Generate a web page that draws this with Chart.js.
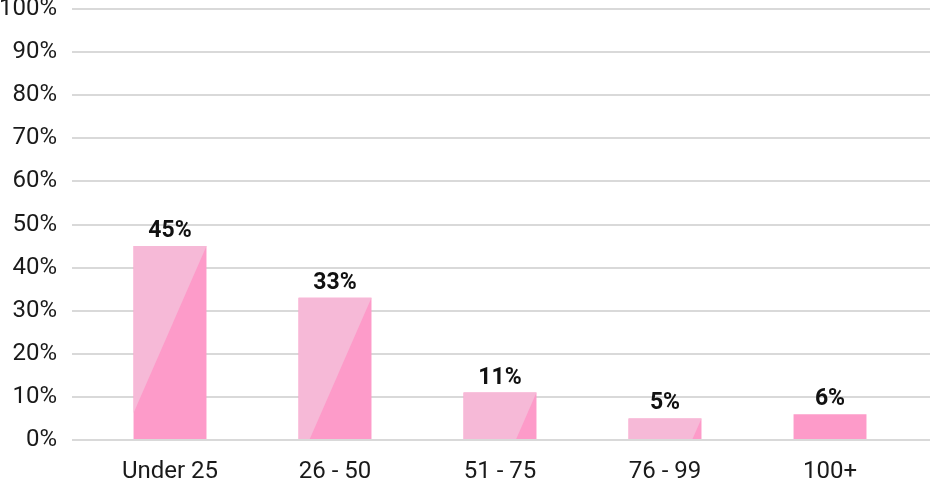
<!DOCTYPE html>
<html>
<head>
<meta charset="utf-8">
<script src="https://cdn.jsdelivr.net/npm/chart.js@4.4.1/dist/chart.umd.min.js"></script>
<style>
html, body { margin: 0; padding: 0; background: #fff; }
</style>
</head>
<body>
<canvas id="chart-age" width="930" height="479"></canvas>
<script>
// data
var ageGroups = ['Under 25', '26 - 50', '51 - 75', '76 - 99', '100+'];
var sharePct = [45, 33, 11, 5, 6];
var yTickValues = [0, 10, 20, 30, 40, 50, 60, 70, 80, 90, 100];

// styling
var darkPink = '#fd9bc9';
var lightPink = '#f6b9d7';
var twoTone = [true, true, true, true, false];
var diagSlope = 0.437; // px left per px down

Chart.defaults.font.family = 'Roboto';
Chart.defaults.font.size = 24;
Chart.defaults.color = '#1a1a1a';

var twoTonePlugin = {
    id: 'twoTone',
    afterDatasetsDraw: function (chart) {
        var ctx = chart.ctx;
        var meta = chart.getDatasetMeta(0);
        meta.data.forEach(function (bar, i) {
            var p = bar.getProps(['x', 'y', 'base', 'width'], true);
            var left = p.x - p.width / 2;
            var right = p.x + p.width / 2;
            var top = p.y;
            var bottom = p.base;
            if (twoTone[i]) {
                ctx.save();
                ctx.fillStyle = lightPink;
                ctx.beginPath();
                ctx.moveTo(left, top);
                ctx.lineTo(right, top);
                var yHit = top + p.width / diagSlope;
                if (yHit <= bottom) {
                    ctx.lineTo(left, yHit);
                } else {
                    ctx.lineTo(right - (bottom - top) * diagSlope, bottom);
                    ctx.lineTo(left, bottom);
                }
                ctx.closePath();
                ctx.fill();
                ctx.restore();
            }
            // value label above the bar
            ctx.save();
            ctx.font = 'bold 23px Roboto';
            ctx.fillStyle = '#111';
            ctx.textAlign = 'center';
            ctx.textBaseline = 'alphabetic';
            ctx.fillText(sharePct[i] + '%', p.x, top - 9);
            ctx.restore();
        });
    }
};

const ageCtx = document.getElementById('chart-age').getContext('2d');
var ageChart = new Chart(ageCtx, {
    type: 'bar',
    data: {
        datasets: [{
            data: sharePct.map(function (v, i) { return { x: i, y: v }; }),
            backgroundColor: darkPink,
            borderWidth: 0,
            barPercentage: 0.442,
            categoryPercentage: 1
        }]
    },
    options: {
        responsive: false,
        animation: false,
        layout: { padding: { top: 9, right: 0, bottom: 0, left: 0 } },
        plugins: {
            legend: { display: false },
            tooltip: { enabled: false }
        },
        scales: {
            x: {
                type: 'linear',
                offset: false,
                min: -0.594,
                max: 4.606,
                afterBuildTicks: function (scale) {
                    scale.ticks = ageGroups.map(function (_, i) { return { value: i }; });
                },
                afterFit: function (scale) {
                    scale.height = 39;
                    scale.paddingLeft = 0;
                    scale.paddingRight = 0;
                },
                ticks: {
                    padding: 10,
                    maxRotation: 0,
                    autoSkip: false,
                    callback: function (v) { return ageGroups[v]; }
                },
                grid: { display: false, offset: false },
                border: { display: false }
            },
            y: {
                min: 0,
                max: 100,
                afterBuildTicks: function (scale) {
                    scale.ticks = yTickValues.map(function (v) { return { value: v }; });
                },
                afterFit: function (scale) {
                    scale.width = 72;
                    scale.paddingTop = 0;
                    scale.paddingBottom = 0;
                },
                ticks: {
                    padding: 15,
                    callback: function (v) { return v + '%'; }
                },
                grid: { color: '#d9d9d9', lineWidth: 2, drawTicks: false },
                border: { display: false }
            }
        }
    },
    plugins: [twoTonePlugin]
});
</script>
</body>
</html>
